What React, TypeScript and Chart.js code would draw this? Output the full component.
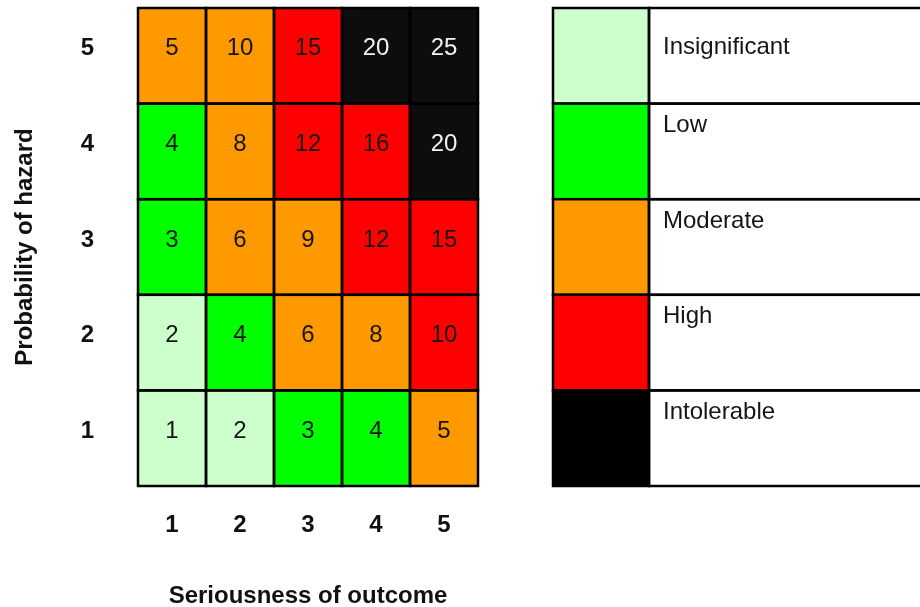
import React, { useEffect, useRef } from 'react';
import { Chart, registerables } from 'chart.js';

Chart.register(...registerables);

const FONT = "'Liberation Sans', Arial, Helvetica, sans-serif";

// Seriousness of outcome (x categories)
const seriousness = ['1', '2', '3', '4', '5'];
// Probability of hazard (y levels)
const probability = [1, 2, 3, 4, 5];

// Risk values per probability row, left to right
const riskP1 = [1, 2, 3, 4, 5];
const riskP2 = [2, 4, 6, 8, 10];
const riskP3 = [3, 6, 9, 12, 15];
const riskP4 = [4, 8, 12, 16, 20];
const riskP5 = [5, 10, 15, 20, 25];

// Risk level per cell
const levelP1 = ['Insignificant', 'Insignificant', 'Low', 'Low', 'Moderate'];
const levelP2 = ['Insignificant', 'Low', 'Moderate', 'Moderate', 'High'];
const levelP3 = ['Low', 'Moderate', 'Moderate', 'High', 'High'];
const levelP4 = ['Low', 'Moderate', 'High', 'High', 'Intolerable'];
const levelP5 = ['Moderate', 'Moderate', 'High', 'Intolerable', 'Intolerable'];

// Legend (top to bottom)
const legendLabels = ['Insignificant', 'Low', 'Moderate', 'High', 'Intolerable'];

const cellColors: Record<string, string> = {
  Insignificant: '#ccffcc',
  Low: '#00ff00',
  Moderate: '#ff9900',
  High: '#ff0000',
  Intolerable: '#0d0d0d',
};
const legendColors: Record<string, string> = {
  Insignificant: '#ccffcc',
  Low: '#00ff00',
  Moderate: '#ff9900',
  High: '#ff0000',
  Intolerable: '#000000',
};

const rows = [
  { p: probability[0], risk: riskP1, level: levelP1 },
  { p: probability[1], risk: riskP2, level: levelP2 },
  { p: probability[2], risk: riskP3, level: levelP3 },
  { p: probability[3], risk: riskP4, level: levelP4 },
  { p: probability[4], risk: riskP5, level: levelP5 },
];

const cellPlugin = {
  id: 'cellPlugin',
  afterDatasetsDraw(chart: any) {
    const ctx = chart.ctx;
    ctx.save();
    chart.data.datasets.forEach((ds: any, di: number) => {
      const meta = chart.getDatasetMeta(di);
      meta.data.forEach((el: any, i: number) => {
        const { x, y, base, width } = el.getProps(['x', 'y', 'base', 'width'], true);
        const top = Math.min(y, base);
        const h = Math.abs(base - y);
        ctx.lineWidth = 2.5;
        ctx.strokeStyle = '#000';
        ctx.strokeRect(x - width / 2, top, width, h);
        const lvl = ds.levels[i];
        ctx.fillStyle = lvl === 'Intolerable' ? '#f2f2f2' : '#151515';
        ctx.font = `24px ${FONT}`;
        ctx.textAlign = 'center';
        ctx.textBaseline = 'middle';
        ctx.fillText(String(ds.risk[i]), x, top + h / 2 - 7);
      });
    });
    ctx.restore();
  },
  afterDraw(chart: any) {
    const ctx = chart.ctx;
    const yScale = chart.scales.y;
    const area = chart.chartArea;
    const boxL = area.right + 75;
    const boxR = area.right + 171;
    const cellR = chart.width + 10;
    const textOffsets = [39, 22, 22, 22, 22];
    ctx.save();
    legendLabels.forEach((label, i) => {
      const level = probability[probability.length - 1 - i];
      const top = yScale.getPixelForValue(level + 0.5);
      const bottom = yScale.getPixelForValue(level - 0.5);
      ctx.fillStyle = legendColors[label];
      ctx.fillRect(boxL, top, boxR - boxL, bottom - top);
      ctx.lineWidth = 2.5;
      ctx.strokeStyle = '#000';
      ctx.strokeRect(boxL, top, boxR - boxL, bottom - top);
      ctx.strokeRect(boxR, top, cellR - boxR, bottom - top);
      ctx.fillStyle = '#151515';
      ctx.font = `24px ${FONT}`;
      ctx.textAlign = 'left';
      ctx.textBaseline = 'middle';
      ctx.fillText(label, boxR + 14, top + textOffsets[i]);
    });
    ctx.restore();
  },
};

export default function App() {
  const ref = useRef<HTMLCanvasElement>(null);
  useEffect(() => {
    document.body.style.margin = '0';
    document.body.style.overflow = 'hidden';
    if (!ref.current) return;
    const chart = new Chart(ref.current, {
      type: 'bar',
      data: {
        labels: seriousness,
        datasets: rows.map((r) => ({
          label: `P${r.p}`,
          data: seriousness.map(() => [r.p - 0.5, r.p + 0.5]),
          backgroundColor: r.level.map((l) => cellColors[l]),
          borderWidth: 0,
          grouped: false,
          barPercentage: 1,
          categoryPercentage: 1,
          risk: r.risk,
          levels: r.level,
        })) as any,
      },
      options: {
        animation: false,
        responsive: false,
        events: [],
        layout: { padding: { top: 8, right: 442, left: 0, bottom: 0 } },
        plugins: { legend: { display: false }, tooltip: { enabled: false } },
        scales: {
          x: {
            type: 'category',
            grid: { display: false, drawTicks: false },
            border: { display: false },
            ticks: { font: { family: FONT, size: 24, weight: 'bold' }, color: '#111', padding: 25 },
            title: {
              display: true,
              text: 'Seriousness of outcome',
              font: { family: FONT, size: 24, weight: 'bold' },
              color: '#111',
              padding: { top: 0, bottom: -4 },
            },
            afterFit: (s: any) => {
              s.height = 121;
              s.paddingLeft = 0;
              s.paddingRight = 0;
            },
          },
          y: {
            type: 'linear',
            min: 0.5,
            max: 5.5,
            afterBuildTicks: (s: any) => {
              s.ticks = probability.map((v) => ({ value: v }));
            },
            grid: { display: false, drawTicks: false },
            border: { display: false },
            ticks: {
              font: { family: FONT, size: 24, weight: 'bold' },
              color: '#111',
              padding: 44,
              labelOffset: -7,
              callback: (v: any) => String(v),
            },
            title: {
              display: true,
              text: 'Probability of hazard',
              font: { family: FONT, size: 24, weight: 'bold' },
              color: '#111',
              padding: { top: 11, bottom: 0 },
            },
            afterFit: (s: any) => {
              s.width = 138;
              s.paddingTop = 0;
              s.paddingBottom = 0;
            },
          },
        },
      } as any,
      plugins: [cellPlugin],
    });
    return () => chart.destroy();
  }, []);
  return <canvas ref={ref} width={920} height={607} style={{ display: 'block' }} />;
}
